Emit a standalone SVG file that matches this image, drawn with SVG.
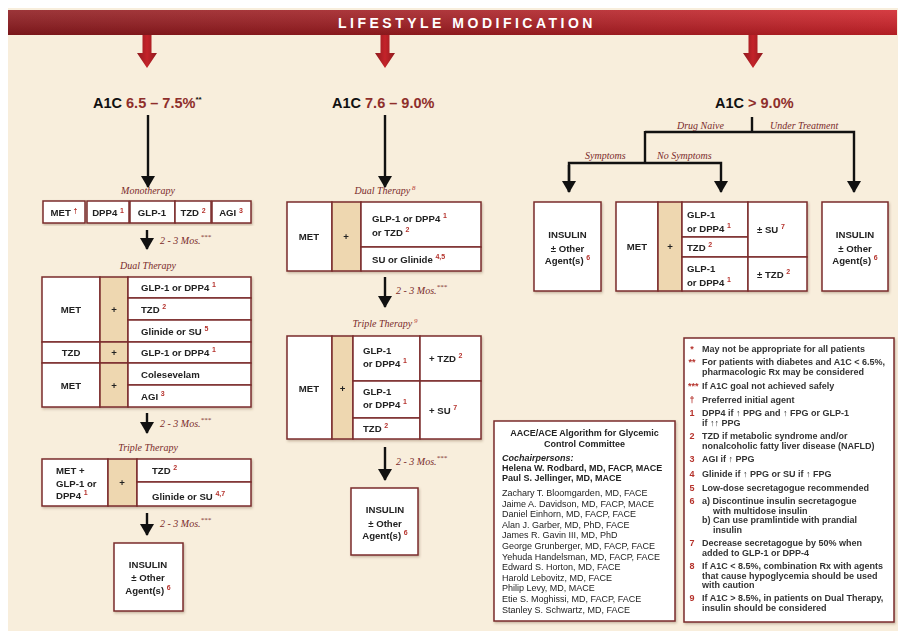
<svg xmlns="http://www.w3.org/2000/svg" width="900" height="633" viewBox="0 0 900 633">
<defs>
<linearGradient id="banner" x1="0" y1="0" x2="1" y2="0">
<stop offset="0" stop-color="#8e1a1e"/><stop offset="0.5" stop-color="#a51d22"/><stop offset="1" stop-color="#d02229"/>
</linearGradient>
<linearGradient id="bannerV" x1="0" y1="0" x2="0" y2="1">
<stop offset="0" stop-color="#ffffff" stop-opacity="0.12"/><stop offset="1" stop-color="#000000" stop-opacity="0.15"/>
</linearGradient>
<linearGradient id="redarrow" x1="0" y1="0" x2="1" y2="0">
<stop offset="0" stop-color="#8f1a1e"/><stop offset="0.5" stop-color="#c4232a"/><stop offset="1" stop-color="#8f1a1e"/>
</linearGradient>
<marker id="ah" viewBox="0 0 12 14" refX="11" refY="7" markerWidth="12" markerHeight="14" markerUnits="userSpaceOnUse" orient="auto">
<path d="M0,0 L12,7 L0,14 z" fill="#111"/>
</marker>
<filter id="sh" x="-5%" y="-5%" width="115%" height="115%">
<feDropShadow dx="1" dy="1.5" stdDeviation="1" flood-color="#6b4a30" flood-opacity="0.35"/>
</filter>
</defs>
<style>
.cell{fill:#ffffff;stroke:#7b2c2c;stroke-width:1.5}
.pl{fill:#eed7b0;stroke:#7b2c2c;stroke-width:1.5}
.t{font-family:"Liberation Sans",Arial,sans-serif;font-weight:bold;font-size:9.6px;fill:#222}
.c{text-anchor:middle}
.s{fill:#b5322c;font-size:7px}
.lb{font-family:"Liberation Serif","Times New Roman",serif;font-style:italic;font-size:10px;fill:#7a2b2b}
.hd{font-family:"Liberation Sans",Arial,sans-serif;font-weight:bold;font-size:14.5px;fill:#111}
.hr{fill:#8e2e2b}
.ln{fill:none;stroke:#111;stroke-width:2.4}
.fn{font-family:"Liberation Sans",Arial,sans-serif;font-weight:bold;font-size:9px;fill:#333}
.fm{fill:#b5322c}
.ac{font-family:"Liberation Sans",Arial,sans-serif;font-size:9px;fill:#222}
.acb{font-weight:bold}
</style>
<rect width="900" height="633" fill="#ffffff"/>
<rect x="8" y="8" width="890" height="623" fill="#f8eedc"/>

<g id="banner">
<rect x="8" y="10" width="889" height="25" fill="url(#banner)"/>
<rect x="8" y="10" width="889" height="25" fill="url(#bannerV)"/>
<text x="338" y="28" font-family="'Liberation Sans',Arial,sans-serif" font-weight="bold" font-size="14" letter-spacing="3.5" fill="#ffffff">LIFESTYLE MODIFICATION</text>
</g>

<g id="connectors">
<polygon points="142.5,35 151.5,35 151.5,53 157,53 147,68 137,53 142.5,53" fill="url(#redarrow)"/>
<polygon points="380.5,35 389.5,35 389.5,53 395,53 385,68 375,53 380.5,53" fill="url(#redarrow)"/>
<polygon points="748.5,35 757.5,35 757.5,53 763,53 753,68 743,53 748.5,53" fill="url(#redarrow)"/>
<path class="ln" d="M148,115 V187" marker-end="url(#ah)"/>
<path class="ln" d="M147,230 V249" marker-end="url(#ah)"/>
<path class="ln" d="M147,413 V433" marker-end="url(#ah)"/>
<path class="ln" d="M147,513 V535" marker-end="url(#ah)"/>
<path class="ln" d="M385,115 V187" marker-end="url(#ah)"/>
<path class="ln" d="M385,277 V307" marker-end="url(#ah)"/>
<path class="ln" d="M385,447 V480" marker-end="url(#ah)"/>
<path class="ln" d="M752,117 V132"/>
<path class="ln" d="M645,132 H854 V192" marker-end="url(#ah)"/>
<path class="ln" d="M645,131 V163"/>
<path class="ln" d="M569,192 V163 H721 V192" marker-end="url(#ah)"/>
<path class="ln" d="M569,165 V192" marker-end="url(#ah)"/>
</g>

<g id="headers">
<text class="hd" x="93" y="108">A1C <tspan class="hr">6.5 – 7.5%</tspan><tspan font-size="8" dy="-6">**</tspan></text>
<text class="hd" x="332" y="108">A1C <tspan class="hr">7.6 – 9.0%</tspan></text>
<text class="hd" x="715" y="108">A1C <tspan class="hr">&gt; 9.0%</tspan></text>
<text class="lb" x="148" y="194" text-anchor="middle">Monotherapy</text>
<text class="lb" x="160" y="244">2 - 3 Mos.<tspan font-size="7" dy="-5">***</tspan></text>
<text class="lb" x="148" y="269" text-anchor="middle">Dual Therapy</text>
<text class="lb" x="160" y="427">2 - 3 Mos.<tspan font-size="7" dy="-5">***</tspan></text>
<text class="lb" x="148" y="451" text-anchor="middle">Triple Therapy</text>
<text class="lb" x="160" y="527">2 - 3 Mos.<tspan font-size="7" dy="-5">***</tspan></text>
<text class="lb" x="385" y="194" text-anchor="middle">Dual Therapy<tspan font-size="7" dy="-4" fill="#b5322c"> 8</tspan></text>
<text class="lb" x="396" y="294">2 - 3 Mos.<tspan font-size="7" dy="-5">***</tspan></text>
<text class="lb" x="385" y="327" text-anchor="middle">Triple Therapy<tspan font-size="7" dy="-4" fill="#b5322c"> 9</tspan></text>
<text class="lb" x="396" y="465">2 - 3 Mos.<tspan font-size="7" dy="-5">***</tspan></text>
<text class="lb" x="677" y="129" font-size="9.5">Drug Naive</text>
<text class="lb" x="770" y="129" font-size="9.5">Under Treatment</text>
<text class="lb" x="585" y="159" font-size="9.5">Symptoms</text>
<text class="lb" x="657" y="159" font-size="9.5">No Symptoms</text>
</g>

<g id="mono" filter="url(#sh)">
<rect class="cell" x="87" y="201" width="42" height="22"/>
<rect class="cell" x="130" y="201" width="45" height="22"/>
<rect class="cell" x="175" y="201" width="36" height="22"/>
<rect class="cell" x="212" y="201" width="39" height="22"/>
<rect class="cell" x="43" y="201" width="42" height="22" stroke-width="2.6" stroke="#7a2326"/>
<text class="t c" x="64" y="216">MET <tspan class="s" dy="-3">†</tspan></text>
<text class="t c" x="108" y="216">DPP4 <tspan class="s" dy="-3">1</tspan></text>
<text class="t c" x="152" y="216">GLP-1</text>
<text class="t c" x="193" y="216">TZD <tspan class="s" dy="-3">2</tspan></text>
<text class="t c" x="231" y="216">AGI <tspan class="s" dy="-3">3</tspan></text>
</g>

<g id="dualL" filter="url(#sh)">
<rect class="cell" x="42" y="277" width="58" height="65"/>
<rect class="pl" x="100" y="277" width="28" height="65"/>
<rect class="cell" x="128" y="277" width="123" height="21"/>
<rect class="cell" x="128" y="298" width="123" height="22"/>
<rect class="cell" x="128" y="320" width="123" height="22"/>
<rect class="cell" x="42" y="342" width="58" height="21"/>
<rect class="pl" x="100" y="342" width="28" height="21"/>
<rect class="cell" x="128" y="342" width="123" height="21"/>
<rect class="cell" x="42" y="363" width="58" height="44"/>
<rect class="pl" x="100" y="363" width="28" height="44"/>
<rect class="cell" x="128" y="363" width="123" height="22"/>
<rect class="cell" x="128" y="385" width="123" height="22"/>
<text class="t c" x="71" y="313">MET</text>
<text class="t c" x="114" y="313">+</text>
<text class="t" x="141" y="291">GLP-1 or DPP4 <tspan class="s" dy="-4">1</tspan></text>
<text class="t" x="141" y="313">TZD <tspan class="s" dy="-4">2</tspan></text>
<text class="t" x="141" y="335">Glinide or SU <tspan class="s" dy="-4">5</tspan></text>
<text class="t c" x="71" y="356">TZD</text>
<text class="t c" x="114" y="356">+</text>
<text class="t" x="141" y="356">GLP-1 or  DPP4 <tspan class="s" dy="-4">1</tspan></text>
<text class="t c" x="71" y="389">MET</text>
<text class="t c" x="114" y="389">+</text>
<text class="t" x="141" y="378">Colesevelam</text>
<text class="t" x="141" y="400">AGI <tspan class="s" dy="-4">3</tspan></text>
</g>

<g id="tripleL" filter="url(#sh)">
<rect class="cell" x="42" y="459" width="66" height="47"/>
<rect class="pl" x="108" y="459" width="29" height="47"/>
<rect class="cell" x="137" y="459" width="114" height="23"/>
<rect class="cell" x="137" y="482" width="114" height="24"/>
<text class="t" x="56" y="474">MET +</text>
<text class="t" x="56" y="486.5">GLP-1 or</text>
<text class="t" x="56" y="499">DPP4 <tspan class="s" dy="-4">1</tspan></text>
<text class="t c" x="122" y="486">+</text>
<text class="t" x="152" y="474">TZD <tspan class="s" dy="-4">2</tspan></text>
<text class="t" x="152" y="499.5">Glinide or SU <tspan class="s" dy="-4">4,7</tspan></text>
</g>

<g id="insulinL" filter="url(#sh)">
<rect class="cell" x="114" y="543" width="69" height="68"/>
<text class="t c" x="148" y="567.5">INSULIN</text>
<text class="t c" x="148" y="581">± Other</text>
<text class="t c" x="148" y="593.5">Agent(s) <tspan class="s" dy="-4">6</tspan></text>
</g>

<g id="dualM" filter="url(#sh)">
<rect class="cell" x="287" y="202" width="45" height="69"/>
<rect class="pl" x="332" y="202" width="29" height="69"/>
<rect class="cell" x="361" y="202" width="120" height="45"/>
<rect class="cell" x="361" y="247" width="120" height="24"/>
<text class="t c" x="309" y="239.5">MET</text>
<text class="t c" x="346" y="239.5">+</text>
<text class="t" x="372" y="221.5">GLP-1 or DPP4 <tspan class="s" dy="-4">1</tspan></text>
<text class="t" x="372" y="235.5">or TZD <tspan class="s" dy="-4">2</tspan></text>
<text class="t" x="372" y="262.5">SU or Glinide <tspan class="s" dy="-4">4,5</tspan></text>
</g>

<g id="tripleM" filter="url(#sh)">
<rect class="cell" x="287" y="336" width="45" height="103"/>
<rect class="pl" x="332" y="336" width="21" height="103"/>
<rect class="cell" x="353" y="336" width="67" height="45"/>
<rect class="cell" x="353" y="381" width="67" height="37"/>
<rect class="cell" x="353" y="418" width="67" height="21"/>
<rect class="cell" x="420" y="336" width="61" height="45"/>
<rect class="cell" x="420" y="381" width="61" height="58"/>
<text class="t c" x="309" y="391.5">MET</text>
<text class="t c" x="342.5" y="391.5">+</text>
<text class="t" x="363" y="353.5">GLP-1</text>
<text class="t" x="363" y="366.5">or DPP4 <tspan class="s" dy="-4">1</tspan></text>
<text class="t" x="363" y="394.5">GLP-1</text>
<text class="t" x="363" y="407.5">or DPP4 <tspan class="s" dy="-4">1</tspan></text>
<text class="t" x="363" y="431.5">TZD <tspan class="s" dy="-4">2</tspan></text>
<text class="t" x="429" y="361.5">+ TZD <tspan class="s" dy="-4">2</tspan></text>
<text class="t" x="429" y="413.5">+ SU <tspan class="s" dy="-4">7</tspan></text>
</g>

<g id="insulinM" filter="url(#sh)">
<rect class="cell" x="351" y="488" width="67" height="67"/>
<text class="t c" x="385" y="512.5">INSULIN</text>
<text class="t c" x="385" y="526.5">± Other</text>
<text class="t c" x="385" y="539">Agent(s) <tspan class="s" dy="-4">6</tspan></text>
</g>

<g id="insulinR1" filter="url(#sh)">
<rect class="cell" x="534" y="202" width="67" height="89"/>
<text class="t c" x="567.5" y="237.5">INSULIN</text>
<text class="t c" x="567.5" y="251.5">± Other</text>
<text class="t c" x="567.5" y="264">Agent(s) <tspan class="s" dy="-4">6</tspan></text>
</g>

<g id="tableR" filter="url(#sh)">
<rect class="cell" x="616" y="202" width="42" height="89"/>
<rect class="pl" x="658" y="202" width="24" height="89"/>
<rect class="cell" x="682" y="202" width="66" height="35"/>
<rect class="cell" x="682" y="237" width="66" height="20"/>
<rect class="cell" x="682" y="257" width="66" height="34"/>
<rect class="cell" x="748" y="202" width="59" height="55"/>
<rect class="cell" x="748" y="257" width="59" height="34"/>
<text class="t c" x="637" y="249.5">MET</text>
<text class="t c" x="670" y="249.5">+</text>
<text class="t" x="687" y="217.5">GLP-1</text>
<text class="t" x="687" y="231.5">or DPP4 <tspan class="s" dy="-4">1</tspan></text>
<text class="t" x="687" y="250.5">TZD <tspan class="s" dy="-4">2</tspan></text>
<text class="t" x="687" y="271.5">GLP-1</text>
<text class="t" x="687" y="285.5">or DPP4 <tspan class="s" dy="-4">1</tspan></text>
<text class="t" x="757" y="233">± SU <tspan class="s" dy="-4">7</tspan></text>
<text class="t" x="757" y="278">± TZD <tspan class="s" dy="-4">2</tspan></text>
</g>

<g id="insulinR2" filter="url(#sh)">
<rect class="cell" x="822" y="202" width="66" height="89"/>
<text class="t c" x="855" y="237.5">INSULIN</text>
<text class="t c" x="855" y="251.5">± Other</text>
<text class="t c" x="855" y="264">Agent(s) <tspan class="s" dy="-4">6</tspan></text>
</g>

<g id="committee" filter="url(#sh)">
<rect class="cell" x="494" y="421" width="181" height="200" stroke-width="2"/>
<text class="ac acb" x="584.5" y="436" text-anchor="middle">AACE/ACE Algorithm for Glycemic</text>
<text class="ac acb" x="584.5" y="446.5" text-anchor="middle">Control Committee</text>
<text class="ac acb" x="502" y="461" font-style="italic">Cochairpersons:</text>
<text class="ac acb" x="502" y="471">Helena W. Rodbard, MD, FACP, MACE</text>
<text class="ac acb" x="502" y="481">Paul S. Jellinger, MD, MACE</text>
<text class="ac" x="502" y="496">Zachary T. Bloomgarden, MD, FACE</text>
<text class="ac" x="502" y="506.6">Jaime A. Davidson, MD, FACP, MACE</text>
<text class="ac" x="502" y="517.2">Daniel Einhorn, MD, FACP, FACE</text>
<text class="ac" x="502" y="527.8">Alan J. Garber, MD, PhD, FACE</text>
<text class="ac" x="502" y="538.4">James R. Gavin III, MD, PhD</text>
<text class="ac" x="502" y="549">George Grunberger, MD, FACP, FACE</text>
<text class="ac" x="502" y="559.6">Yehuda Handelsman, MD, FACP, FACE</text>
<text class="ac" x="502" y="570.2">Edward S. Horton, MD, FACE</text>
<text class="ac" x="502" y="580.8">Harold Lebovitz, MD, FACE</text>
<text class="ac" x="502" y="591.4">Philip Levy, MD, MACE</text>
<text class="ac" x="502" y="602">Etie S. Moghissi, MD, FACP, FACE</text>
<text class="ac" x="502" y="612.6">Stanley S. Schwartz, MD, FACE</text>
</g>

<g id="footnotes" filter="url(#sh)">
<rect class="cell" x="684" y="338" width="210" height="284" stroke-width="2"/>
<text class="fn fm" x="692" y="352" text-anchor="middle">*</text>
<text class="fn" x="702" y="352">May not be appropriate for all patients</text>
<text class="fn fm" x="692" y="365" text-anchor="middle">**</text>
<text class="fn" x="702" y="365">For patients with diabetes and A1C &lt; 6.5%,</text>
<text class="fn" x="702" y="374.5">pharmacologic Rx may be considered</text>
<text class="fn fm" x="688" y="389">***</text>
<text class="fn" x="702" y="389">If A1C goal not achieved safely</text>
<text class="fn fm" x="692" y="403" text-anchor="middle">†</text>
<text class="fn" x="702" y="403">Preferred initial agent</text>
<text class="fn fm" x="692" y="416" text-anchor="middle">1</text>
<text class="fn" x="702" y="416">DPP4 if ↑ PPG and ↑ FPG or GLP-1</text>
<text class="fn" x="702" y="425.5">if ↑↑ PPG</text>
<text class="fn fm" x="692" y="439" text-anchor="middle">2</text>
<text class="fn" x="702" y="439">TZD if  metabolic syndrome and/or</text>
<text class="fn" x="702" y="448.5">nonalcoholic fatty liver disease (NAFLD)</text>
<text class="fn fm" x="692" y="462" text-anchor="middle">3</text>
<text class="fn" x="702" y="462">AGI if ↑ PPG</text>
<text class="fn fm" x="692" y="477" text-anchor="middle">4</text>
<text class="fn" x="702" y="477">Glinide if ↑ PPG or SU if ↑ FPG</text>
<text class="fn fm" x="692" y="491" text-anchor="middle">5</text>
<text class="fn" x="702" y="491">Low-dose secretagogue recommended</text>
<text class="fn fm" x="692" y="504" text-anchor="middle">6</text>
<text class="fn" x="702" y="504">a) Discontinue insulin secretagogue</text>
<text class="fn" x="713" y="513.5">with multidose insulin</text>
<text class="fn" x="702" y="523">b) Can use pramlintide with prandial</text>
<text class="fn" x="713" y="532.5">insulin</text>
<text class="fn fm" x="692" y="546" text-anchor="middle">7</text>
<text class="fn" x="702" y="546">Decrease secretagogue by 50% when</text>
<text class="fn" x="702" y="555.5">added to GLP-1 or DPP-4</text>
<text class="fn fm" x="692" y="569" text-anchor="middle">8</text>
<text class="fn" x="702" y="569">If A1C &lt; 8.5%, combination Rx with agents</text>
<text class="fn" x="702" y="578.5">that cause hypoglycemia should be used</text>
<text class="fn" x="702" y="588">with caution</text>
<text class="fn fm" x="692" y="601" text-anchor="middle">9</text>
<text class="fn" x="702" y="601">If A1C &gt; 8.5%, in patients on Dual Therapy,</text>
<text class="fn" x="702" y="610.5">insulin should be considered</text>
</g>
</svg>
